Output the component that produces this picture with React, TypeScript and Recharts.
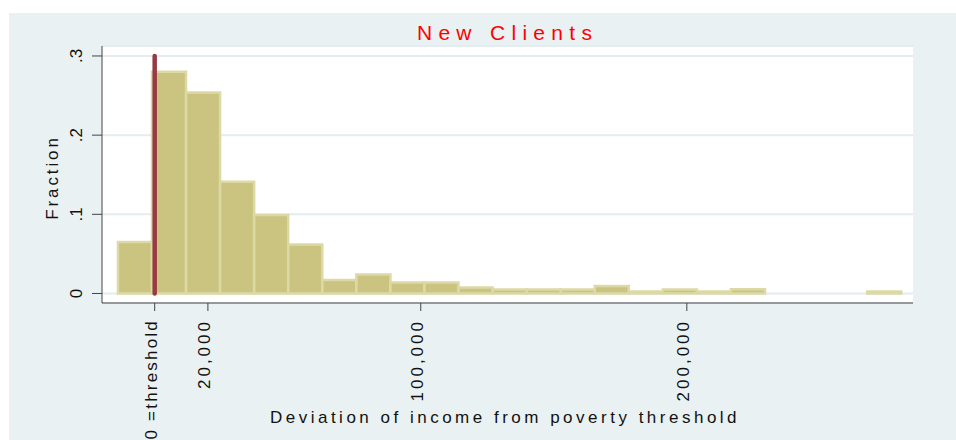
import { ComposedChart, Bar, XAxis, YAxis, CartesianGrid, ReferenceLine } from 'recharts';

// histogram bins: left edge of first bin and bin width (income units)
const binStart = -13800;
const binWidth = 12800;
const fractions = [
  0.065, 0.28, 0.254, 0.141, 0.099, 0.062, 0.017, 0.024, 0.014, 0.014, 0.0075, 0.005,
  0.005, 0.005, 0.0095, 0.0025, 0.005, 0.0025, 0.0055, 0, 0, 0, 0.0025,
];
const xTicks = [0, 20000, 100000, 200000];
const xTickLabels = ['0 =threshold', '20,000', '100,000', '200,000'];
const yTicks = [0, 0.1, 0.2, 0.3];
const yTickLabels = ['0', '.1', '.2', '.3'];
const thresholdValue = 0;
const thresholdTop = 0.3;

const xDomain = [-19800, 285000];
const yDomain = [-0.012, 0.3126];

const data = fractions.map((f, i) => ({ x: binStart + binWidth * (i + 0.5), frac: f }));

const FONT = '"Liberation Sans", Arial, sans-serif';
const TEXT = '#111';

function XTick(props: any) {
  const { x, y, payload } = props;
  const label = xTickLabels[xTicks.indexOf(payload.value)];
  const bx = x + 2;
  // the long threshold label is packed a bit tighter so it stays on the page
  const spacing = label.length > 8 ? 2.2 : 3;
  return (
    <text x={bx} y={y} transform={`rotate(-90 ${bx} ${y})`} textAnchor="end"
      fontSize={17} letterSpacing={spacing} fill={TEXT} fontFamily={FONT}>
      {label}
    </text>
  );
}

function YTick(props: any) {
  const { x, y, payload } = props;
  const label = yTickLabels[yTicks.indexOf(payload.value)];
  return (
    <text x={x} y={y} transform={`rotate(-90 ${x} ${y})`} textAnchor="middle"
      fontSize={17} fill={TEXT} fontFamily={FONT}>
      {label}
    </text>
  );
}

export default function App() {
  return (
    <div style={{ position: 'absolute', left: 9, top: 13, width: 947, height: 427, background: '#EAF1F3' }}>
      <div style={{
        position: 'absolute', left: 498.6, top: 8.5, transform: 'translateX(-50%)', whiteSpace: 'nowrap',
        fontFamily: FONT, fontSize: 21, lineHeight: '21px', letterSpacing: 6.3, color: '#ff0000',
      }}>
        New Clients
      </div>
      <ComposedChart width={947} height={427} data={data}
        margin={{ top: 33, right: 43, bottom: 17, left: 0 }} style={{ fontFamily: FONT }}>
        <CartesianGrid vertical={false} fill="#ffffff" stroke="#E3ECEF" strokeWidth={2} />
        <XAxis type="number" dataKey="x" domain={xDomain} allowDataOverflow ticks={xTicks}
          height={120} tickSize={8} tickMargin={8} tick={<XTick />}
          axisLine={{ stroke: '#444' }} tickLine={{ stroke: '#444' }}
          label={{
            content: () => (
              <text x={496} y={410} textAnchor="middle" fontSize={17} letterSpacing={3.5}
                fill={TEXT} fontFamily={FONT}>
                Deviation of income from poverty threshold
              </text>
            ),
          }}
        />
        <YAxis type="number" domain={yDomain} allowDataOverflow ticks={yTicks} width={93}
          tickSize={10} tickMargin={10} tick={<YTick />}
          axisLine={{ stroke: '#444' }} tickLine={{ stroke: '#444' }}
          label={{
            content: () => (
              <text x={49} y={164.5} transform="rotate(-90 49 164.5)" textAnchor="middle"
                fontSize={17} letterSpacing={2.9} fill={TEXT} fontFamily={FONT}>
                Fraction
              </text>
            ),
          }}
        />
        <YAxis yAxisId="r" orientation="right" width={0} domain={yDomain} allowDataOverflow
          tick={false} tickLine={false} axisLine={{ stroke: '#444' }} />
        <Bar dataKey="frac" fill="#CAC480" stroke="#DDD9A6" strokeWidth={2.5} barSize={34}
          isAnimationActive={false} />
        <ReferenceLine
          segment={[{ x: thresholdValue, y: 0 }, { x: thresholdValue, y: thresholdTop }]}
          stroke="#983A43" strokeWidth={4.5} strokeLinecap="round" />
      </ComposedChart>
    </div>
  );
}
